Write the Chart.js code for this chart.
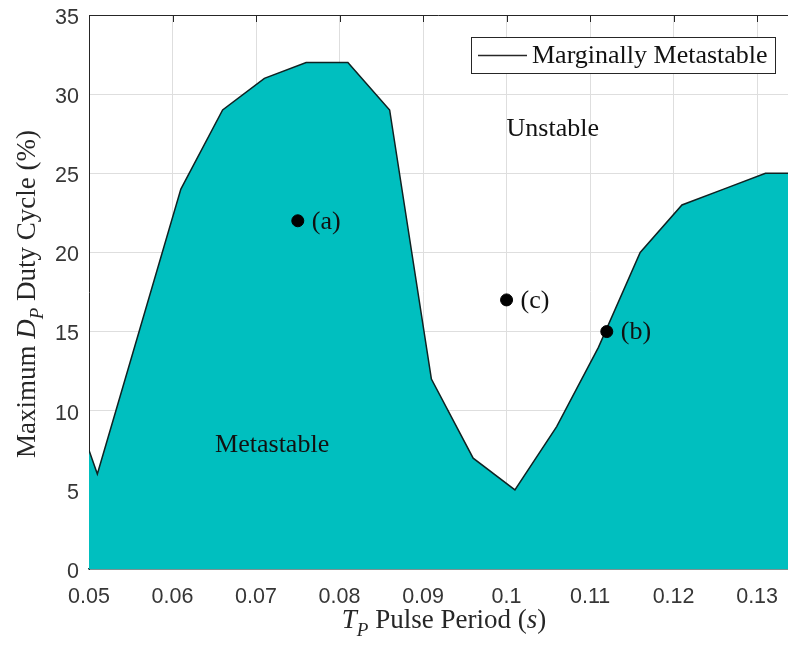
<!DOCTYPE html>
<html>
<head>
<meta charset="utf-8">
<script src="https://cdn.jsdelivr.net/npm/chart.js@4"></script>
<style>
  html, body { margin: 0; padding: 0; background: #fff; }
  canvas { display: block; }
</style>
</head>
<body>
<canvas id="chart" width="788" height="645"></canvas>
<script>
// stability boundary: max duty cycle (%) per pulse period (s)
const periods = [0.05, 0.051, 0.056, 0.061, 0.066, 0.071, 0.076, 0.081, 0.086, 0.091,
                 0.096, 0.101, 0.106, 0.111, 0.116, 0.121, 0.126, 0.131, 0.136];
const maxDuty = [7.5, 6, 15, 24, 29, 31, 32, 32, 29, 12,
                 7, 5, 9, 14, 20, 23, 24, 25, 25];

// operating points marked on the map
const caseNames = ["(a)", "(b)", "(c)"];
const casePeriods = [0.075, 0.112, 0.1];
const caseDuty = [22, 15, 17];

const xTicks = [0.05, 0.06, 0.07, 0.08, 0.09, 0.1, 0.11, 0.12, 0.13];
const yTicks = [0, 5, 10, 15, 20, 25, 30, 35];

const SERIF = "'Liberation Serif', 'Times New Roman', serif";
const SANS = "'Liberation Sans', Arial, sans-serif";
const INK = "#111";
const TEXT_SIZE = 26;
const TITLE_SIZE = 27;

// draws a run of text pieces (plain / italic / subscript) centred on x
function richText(ctx, parts, x, y, size) {
  const fontFor = p => `${p.it ? "italic " : ""}${p.sub ? Math.round(size * 0.7) : size}px ${SERIF}`;
  let total = 0;
  parts.forEach(p => { ctx.font = fontFor(p); total += ctx.measureText(p.t).width; });
  let cx = x - total / 2;
  ctx.textAlign = "left";
  ctx.textBaseline = "alphabetic";
  parts.forEach(p => {
    ctx.font = fontFor(p);
    ctx.fillText(p.t, cx, p.sub ? y + size * 0.3 : y);
    cx += ctx.measureText(p.t).width;
  });
}

const annotations = {
  id: "annotations",
  afterDatasetsDraw(chart) {
    const { ctx, chartArea: a, scales: { x, y } } = chart;
    ctx.save();
    ctx.fillStyle = INK;

    // labels beside the marked points
    ctx.font = `${TEXT_SIZE}px ${SERIF}`;
    ctx.textAlign = "left";
    ctx.textBaseline = "middle";
    caseNames.forEach((name, i) => {
      ctx.fillText(name, x.getPixelForValue(casePeriods[i]) + 14, y.getPixelForValue(caseDuty[i]) + 1);
    });

    // region names
    ctx.fillText("Unstable", x.getPixelForValue(0.1), y.getPixelForValue(27.8));
    ctx.fillText("Metastable", x.getPixelForValue(0.0651), y.getPixelForValue(7.8));

    // top frame line with inward ticks
    ctx.strokeStyle = "#262626";
    ctx.lineWidth = 1;
    ctx.beginPath();
    ctx.moveTo(a.left, a.top + 0.5);
    ctx.lineTo(a.right, a.top + 0.5);
    xTicks.forEach(v => {
      const px = Math.round(x.getPixelForValue(v)) + 0.5;
      ctx.moveTo(px, a.top);
      ctx.lineTo(px, a.top + 7);
    });
    ctx.stroke();

    // legend box
    const bx = a.right - 317, by = a.top + 22, bw = 304, bh = 36;
    ctx.fillStyle = "#fff";
    ctx.fillRect(bx, by, bw, bh);
    ctx.strokeStyle = "#262626";
    ctx.strokeRect(bx + 0.5, by + 0.5, bw, bh);
    ctx.beginPath();
    ctx.lineWidth = 1.5;
    ctx.moveTo(bx + 7, by + bh / 2 + 0.5);
    ctx.lineTo(bx + 56, by + bh / 2 + 0.5);
    ctx.stroke();
    ctx.fillStyle = INK;
    ctx.font = `${TEXT_SIZE}px ${SERIF}`;
    ctx.textBaseline = "middle";
    ctx.fillText("Marginally Metastable", bx + 61, by + bh / 2 + 1);

    // axis titles
    ctx.fillStyle = "#262626";
    richText(ctx, [
      { t: "T", it: true }, { t: "P", it: true, sub: true }, { t: " Pulse Period (" },
      { t: "s", it: true }, { t: ")" }
    ], 444, 628, TITLE_SIZE);

    ctx.save();
    ctx.translate(35, 294);
    ctx.rotate(-Math.PI / 2);
    richText(ctx, [
      { t: "Maximum " }, { t: "D", it: true }, { t: "P", it: true, sub: true },
      { t: " Duty Cycle (%)" }
    ], 0, 0, TITLE_SIZE);
    ctx.restore();

    ctx.restore();
  }
};

new Chart(document.getElementById("chart"), {
  type: "line",
  data: {
    datasets: [
      {
        label: "Marginally Metastable",
        data: periods.map((p, i) => ({ x: p, y: maxDuty[i] })),
        fill: "origin",
        backgroundColor: "#00bfbf",
        borderColor: "#0f2222",
        borderWidth: 1.5,
        pointRadius: 0,
        tension: 0,
        order: 2,
      },
      {
        type: "scatter",
        label: "cases",
        data: casePeriods.map((p, i) => ({ x: p, y: caseDuty[i] })),
        pointRadius: 6,
        backgroundColor: "#000",
        borderColor: "#000",
        order: 1,
      },
    ],
  },
  options: {
    responsive: false,
    animation: false,
    devicePixelRatio: 1,
    layout: { autoPadding: false, padding: { top: 15, right: 0, left: 0, bottom: 0 } },
    plugins: { legend: { display: false }, tooltip: { enabled: false } },
    scales: {
      x: {
        type: "linear",
        min: 0.05,
        max: 0.1337,
        afterBuildTicks: s => { s.ticks = xTicks.map(v => ({ value: v })); },
        afterFit: s => { s.height = 76; s.paddingLeft = 0; s.paddingRight = 0; },
        ticks: {
          callback: v => String(Number(v.toFixed(3))),
          font: { family: SANS, size: 21.5 },
          color: "#363636",
          padding: 15,
          maxRotation: 0,
        },
        grid: { color: "#dedede", drawTicks: false },
        border: { display: true, color: "#1d4646", width: 1.5 },
      },
      y: {
        min: 0,
        max: 35,
        afterBuildTicks: s => { s.ticks = yTicks.map(v => ({ value: v })); },
        afterFit: s => { s.width = 89; s.paddingTop = 0; s.paddingBottom = 0; },
        ticks: {
          font: { family: SANS, size: 21.5 },
          color: "#363636",
          padding: 10,
          labelOffset: 3,
        },
        grid: { color: "#dedede", drawTicks: false },
        border: { display: true, color: "#262626", width: 1 },
      },
    },
  },
  plugins: [annotations],
});
</script>
</body>
</html>
